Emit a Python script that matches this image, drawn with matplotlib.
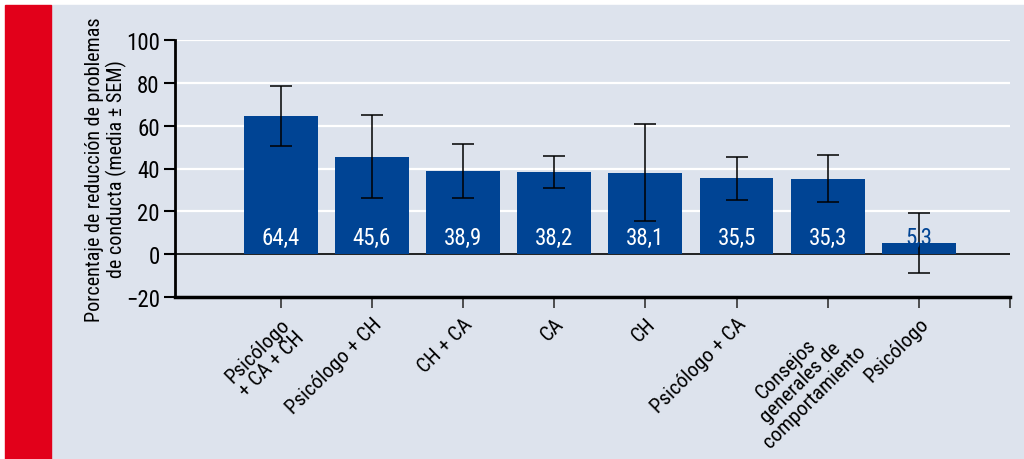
import numpy as np
import matplotlib.pyplot as plt
from matplotlib.patches import Rectangle

plt.rcParams['font.family'] = ['Roboto Condensed', 'DejaVu Sans']
plt.rcParams['font.stretch'] = 'condensed'

# Data
categorias = ["Psicólogo\n+ CA + CH", "Psicólogo + CH", "CH + CA", "CA", "CH",
              "Psicólogo + CA", "Consejos\ngenerales de\ncomportamiento", "Psicólogo"]
medias = [64.4, 45.6, 38.9, 38.2, 38.1, 35.5, 35.3, 5.3]
sem = [14.0, 19.5, 12.5, 7.5, 22.5, 10.0, 11.0, 14.0]
etiquetas = ["64,4", "45,6", "38,9", "38,2", "38,1", "35,5", "35,3", "5,3"]

azul = "#004494"
fondo = "#dde3ed"
rojo = "#e2001a"

fig = plt.figure(figsize=(10.24, 4.6), dpi=100)
fig.patch.set_facecolor("white")
# panel background and red side band
fig.patches.append(Rectangle((51/1024, 0), 1 - 51/1024, 1 - 6/460,
                             transform=fig.transFigure, color=fondo, zorder=-2))
fig.patches.append(Rectangle((5/1024, 0), 46/1024, 1 - 6/460,
                             transform=fig.transFigure, color=rojo, zorder=-2))

ax = fig.add_axes([175/1024, 162/460, 835/1024, 257/460])
ax.set_facecolor(fondo)

x = np.arange(len(medias))
ax.bar(x, medias, width=0.81, color=azul, zorder=3)
ax.errorbar(x, medias, yerr=sem, fmt="none", ecolor="black", elinewidth=1.1,
            capsize=8, capthick=1.1, zorder=4)

for xi, val, txt in zip(x, medias, etiquetas):
    color = "white" if val > 15 else azul
    ax.text(xi, 8, txt, ha="center", va="center", color=color, fontsize=16.5, zorder=5)

ax.set_xlim(-1.16, 8.0)
ax.set_ylim(-20, 100)

# white grid lines and zero line
for yv in [20, 40, 60, 80, 100]:
    ax.axhline(yv, color="white", lw=1.6, zorder=1)
ax.axhline(0, color="black", lw=1.2, zorder=2)

ax.set_yticks([-20, 0, 20, 40, 60, 80, 100])
ax.set_yticklabels(["\u221220", "0", "20", "40", "60", "80", "100"])
ax.tick_params(axis="y", direction="out", length=8, width=1.5, labelsize=16.5, pad=3)

ax.set_xticks(list(x) + [8.0])
ax.set_xticklabels(categorias + [""], rotation=45, ha="right",
                   rotation_mode="anchor", multialignment="center", fontsize=15,
                   linespacing=1.05)
ax.tick_params(axis="x", direction="out", length=8, width=1.2, color="#333333", pad=4)

for s in ["top", "right"]:
    ax.spines[s].set_visible(False)
ax.spines["left"].set_linewidth(2)
ax.spines["bottom"].set_linewidth(2.5)

ax.set_ylabel("Porcentaje de reducción de problemas\nde conducta (media ± SEM)",
              fontsize=14.5, labelpad=-1, linespacing=1.15)

fig.savefig("out.png", dpi=100)
